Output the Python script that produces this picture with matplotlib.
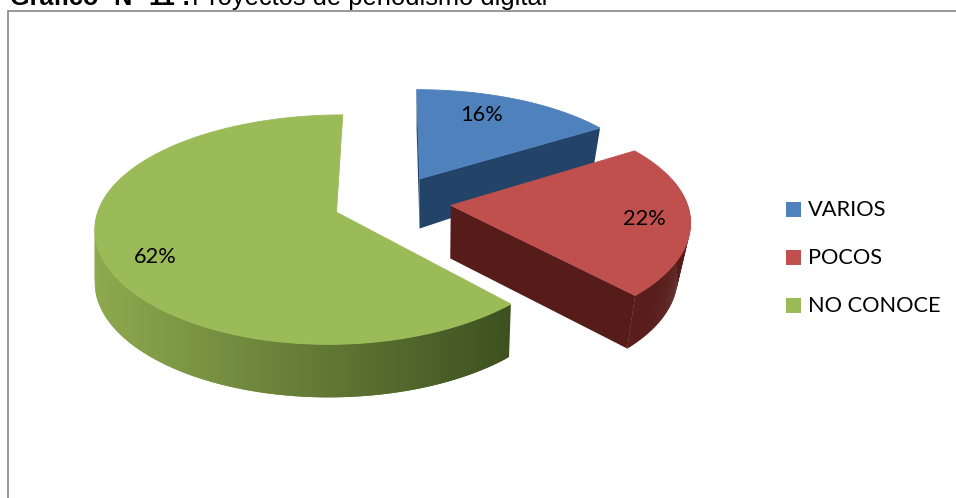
import numpy as np
import matplotlib
matplotlib.use("Agg")
import matplotlib.pyplot as plt
from matplotlib.patches import Polygon, Rectangle
from matplotlib.colors import to_rgb

# Survey answers
categories = ["VARIOS", "POCOS", "NO CONOCE"]
percentages = [16, 22, 62]
top_colors = ["#4f81bd", "#c0504d", "#9bbb59"]
rim_light = ["#27507f", "#5a1e1b", "#8eaa4e"]
rim_dark = ["#234468", "#561c1a", "#3d5120"]

# Geometry of the projected pie, in canvas pixels
CX, CY = 392, 202
RX, RY = 236, 109
PERSPECTIVE_X = 0.125
PERSPECTIVE_Y = 0.15
EXPLODE = 0.25
DEPTH = 53

W, H = 956, 498
fig = plt.figure(figsize=(W / 100, H / 100), dpi=100)
ax = fig.add_axes([0, 0, 1, 1])
ax.set_xlim(0, W)
ax.set_ylim(H, 0)
ax.axis("off")


def project(x, y, drop=0.0):
    """Project points of the pie plane onto the canvas; drop lowers them by the wall height."""
    x, y = np.asarray(x, float), np.asarray(y, float)
    sx = 1.0 / (1.0 + PERSPECTIVE_X * y)
    sy = 1.0 / (1.0 + PERSPECTIVE_Y * y)
    # walls converge slightly toward the centre as they go down
    shrink = 1.0 - 0.035 * (drop > 0) * np.clip(x, 0, None)
    wall = drop * np.minimum(sy, 1.0) ** 2
    return np.column_stack([CX + RX * x * sx * shrink, CY - RY * y * sy + wall])


def mix(a, b, t):
    a, b = np.array(to_rgb(a)), np.array(to_rgb(b))
    return tuple(a + (b - a) * t)


total = sum(percentages)
edges = np.cumsum([0] + percentages) / total * 2 * np.pi
# which cut faces turn toward the viewer, per slice (start edge, end edge)
shown_faces = [(True, True), (False, True), (False, False)]

for i in range(len(percentages)):
    a0, a1 = edges[i], edges[i + 1]
    mid = 0.5 * (a0 + a1)
    ox, oy = EXPLODE * np.sin(mid), EXPLODE * np.cos(mid)
    theta = np.linspace(a0, a1, 240)
    arc_x = ox + np.sin(theta)
    arc_y = oy + np.cos(theta)
    z = 2 + i * 2

    for a, shown in zip((a0, a1), shown_faces[i]):
        if not shown:
            continue
        fx, fy = ox + np.sin(a), oy + np.cos(a)
        face = np.vstack([
            project([ox, fx], [oy, fy]),
            project([fx, ox], [fy, oy], DEPTH),
        ])
        ax.add_patch(Polygon(face, closed=True, fc=rim_dark[i], ec="none", zorder=z))

    # outer wall, shaded along the arc; strips overlap so no seams show
    top = project(arc_x, arc_y)
    low = project(arc_x, arc_y, DEPTH)
    xmin, xmax = top[:, 0].min(), top[:, 0].max()
    visible = np.cos(theta) < 0.25
    for k in range(len(theta) - 1):
        if not visible[k]:
            continue
        j = min(k + 3, len(theta))
        quad = np.vstack([top[k:j], low[k:j][::-1]])
        t = (top[k, 0] - xmin) / max(xmax - xmin, 1)
        ax.add_patch(Polygon(quad, closed=True, fc=mix(rim_light[i], rim_dark[i], t),
                             ec="none", zorder=z))

    # top surface
    surf = np.vstack([project([ox], [oy]), top])
    ax.add_patch(Polygon(surf, closed=True, fc=top_colors[i], ec=top_colors[i],
                         lw=0.6, zorder=z + 1))

# Value labels
label_xy = [(482, 115), (644, 219), (155, 257)]
for (lx, ly), p in zip(label_xy, percentages):
    ax.text(lx, ly, f"{p}%", ha="center", va="center", fontsize=15.7,
            family="Lato", color="#000000", zorder=20)

# Legend
legend_y = [209.5, 257.5, 305.5]
for ly, name, color in zip(legend_y, categories, top_colors):
    ax.add_patch(Rectangle((786, ly - 7.5), 15, 15, fc=color, ec="none", zorder=20))
    ax.text(808, ly, name, ha="left", va="center", fontsize=15.7,
            family="Lato", color="#000000", zorder=20)

# Chart frame
ax.plot([8.5, 8.5, 956], [498, 10.5, 10.5], color="#868686", lw=1.2,
        solid_joinstyle="miter", zorder=1)

# Caption, running off the top of the page; its words are spread out as justified text
caption_bold = [("Gráfico", 10), ("N°", 113), ("11", 148), (":", 182)]
for word, wx in caption_bold:
    ax.text(wx, 4.5, word, ha="left", va="baseline", fontsize=18.2, fontweight="bold",
            family="Liberation Sans", color="#000000")
ax.text(192, 4.5, "Proyectos de periodismo digital", ha="left", va="baseline",
        fontsize=18.4, family="Liberation Sans", color="#000000")

fig.savefig("out.png", dpi=100)
